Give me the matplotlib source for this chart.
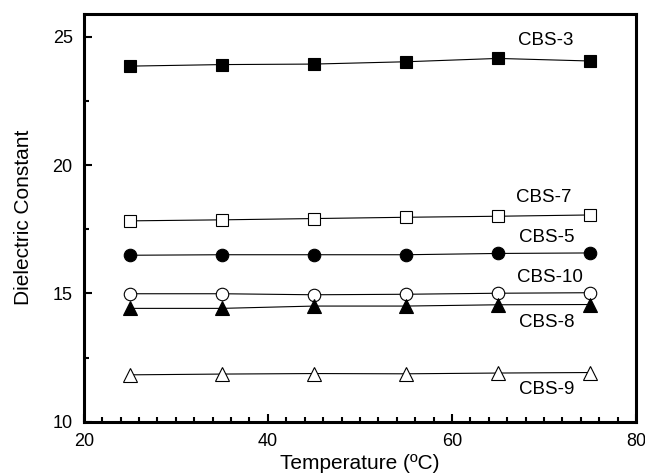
import matplotlib
matplotlib.use("Agg")
import matplotlib.pyplot as plt
from matplotlib.ticker import MultipleLocator

plt.rcParams['font.family'] = ['Liberation Sans', 'DejaVu Sans']

temperature = [25, 35, 45, 55, 65, 75]
cbs3 = [23.86, 23.92, 23.94, 24.03, 24.16, 24.06]
cbs7 = [17.83, 17.87, 17.92, 17.97, 18.01, 18.06]
cbs5 = [16.49, 16.51, 16.51, 16.51, 16.56, 16.58]
cbs10 = [14.99, 14.99, 14.95, 14.97, 15.01, 15.03]
cbs8 = [14.42, 14.42, 14.51, 14.51, 14.56, 14.57]
cbs9 = [11.83, 11.86, 11.88, 11.87, 11.90, 11.92]

series_names = ['CBS-3', 'CBS-7', 'CBS-5', 'CBS-10', 'CBS-8', 'CBS-9']
label_x = [70.2, 70.0, 70.3, 70.7, 70.3, 70.3]
label_y = [24.85, 18.75, 17.2, 15.62, 13.86, 11.26]

fig = plt.figure(figsize=(6.45, 4.75), dpi=100)
ax = fig.add_axes([0.130, 0.112, 0.856, 0.859])

styles = [
    (cbs3, 's', 'black', 8),
    (cbs7, 's', 'white', 8),
    (cbs5, 'o', 'black', 9),
    (cbs10, 'o', 'white', 9),
    (cbs8, '^', 'black', 10),
    (cbs9, '^', 'white', 10),
]
for vals, m, fc, ms in styles:
    ax.plot(temperature, vals, color='black', lw=0.8, marker=m, ms=ms,
            mfc=fc, mec='black', mew=0.8)

for name, lx, ly in zip(series_names, label_x, label_y):
    ax.text(lx, ly, name, fontsize=13.5, ha='center', va='center')

ax.set_xlim(20, 80)
ax.set_ylim(10, 25.9)
ax.xaxis.set_major_locator(MultipleLocator(20))
ax.xaxis.set_minor_locator(MultipleLocator(2))
ax.yaxis.set_major_locator(MultipleLocator(5))
ax.yaxis.set_minor_locator(MultipleLocator(2.5))
ax.tick_params(which='both', direction='in', top=False, right=False, width=1.5,
               labelsize=13)
ax.tick_params(axis='x', which='both', pad=8)
ax.tick_params(axis='y', which='both', pad=8)
ax.tick_params(which='major', length=6)
ax.tick_params(which='minor', length=3.5)
for s in ax.spines.values():
    s.set_linewidth(2.2)

ax.set_xlabel('Temperature (ºC)', fontsize=15, labelpad=3)
ax.set_ylabel('Dielectric Constant', fontsize=15, labelpad=14)

fig.savefig('out.png', dpi=100)
